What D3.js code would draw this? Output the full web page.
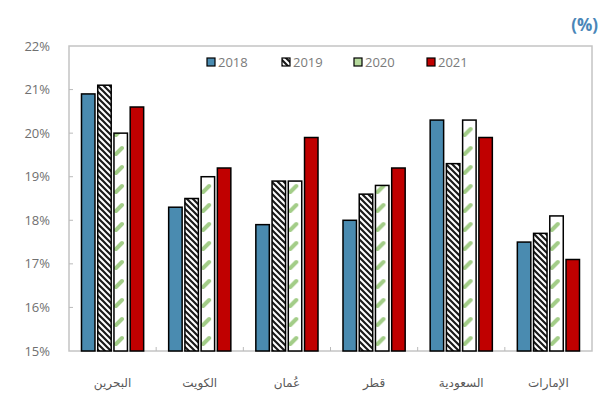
<!DOCTYPE html>
<html><head><meta charset="utf-8">
<script src="https://cdn.jsdelivr.net/npm/d3@7"></script>
<style>body{margin:0;background:#fff;}svg{display:block;font-family:"Open Sans","DejaVu Sans",sans-serif;}</style>
</head><body>
<svg id="chart" width="600" height="394"></svg>
<script>
const categories = ["البحرين","الكويت","عُمان","قطر","السعودية","الإمارات"];
const years = ["2018","2019","2020","2021"];
const v2018 = [20.9, 18.3, 17.9, 18.0, 20.3, 17.5];
const v2019 = [21.1, 18.5, 18.9, 18.6, 19.3, 17.7];
const v2020 = [20.0, 19.0, 18.9, 18.8, 20.3, 18.1];
const v2021 = [20.6, 19.2, 19.9, 19.2, 19.9, 17.1];
const yTicks = [15,16,17,18,19,20,21,22];
const unitLabel = "(%)";

const series = [v2018, v2019, v2020, v2021];
const svg = d3.select("#chart");
const L = 69, R = 592, T = 46, B = 351;

const x0 = d3.scaleBand().domain(categories).range([L, R]).paddingInner(0).paddingOuter(0);
const x1 = d3.scaleBand().domain(years).range([0, x0.bandwidth()]).paddingInner(0.17).paddingOuter(0.77);
const y = d3.scaleLinear().domain([15, 22]).range([B, T]);

const defs = svg.append("defs");
const p19 = defs.append("pattern").attr("id","p19").attr("patternUnits","userSpaceOnUse")
  .attr("width",6).attr("height",6);
p19.append("rect").attr("width",6).attr("height",6).attr("fill","#fff");
p19.append("path").attr("d","M-1,-1 L7,7 M-1,5 L1,7 M5,-1 L7,1").attr("stroke","#1a1a1a").attr("stroke-width",2.2);
categories.forEach((c,i)=>{
  const p = defs.append("pattern").attr("id","p20_"+i).attr("patternUnits","userSpaceOnUse")
    .attr("x", x0(c)+x1("2020")).attr("y", B).attr("width",40).attr("height",19);
  p.append("rect").attr("width",40).attr("height",19).attr("fill","#fff");
  p.append("path").attr("d","M2,12 L8,6").attr("stroke","#a3cd88").attr("stroke-width",4).attr("stroke-linecap","round");
});

const fills = ["#4a8bb0","url(#p19)",null,"#c00000"];
const legendFills = ["#4a8bb0","url(#p19)","#b5d99c","#c00000"];

// frame
svg.append("rect").attr("x",L).attr("y",T).attr("width",R-L).attr("height",B-T)
  .attr("fill","none").attr("stroke","#c4c4c4").attr("stroke-width",1.5);

// y ticks & labels
svg.append("g").selectAll("line").data(yTicks.slice(1,-1)).join("line")
  .attr("x1",L).attr("x2",L+4).attr("y1",d=>y(d)).attr("y2",d=>y(d))
  .attr("stroke","#bbb").attr("stroke-width",1);
svg.append("g").selectAll("text").data(yTicks).join("text")
  .attr("x",50).attr("y",d=>y(d)).attr("dy","0.35em").attr("text-anchor","end")
  .attr("fill","#707070").attr("font-size",13).text(d=>d+"%");

// x ticks
svg.append("g").selectAll("line").data(categories.slice(1)).join("line")
  .attr("x1",d=>x0(d)).attr("x2",d=>x0(d)).attr("y1",B).attr("y2",B-4)
  .attr("stroke","#bbb").attr("stroke-width",1);

// bars
const g = svg.append("g");
categories.forEach((c,i)=>{
  years.forEach((yr,j)=>{
    const val = series[j][i];
    g.append("rect")
      .attr("x", x0(c)+x1(yr)).attr("width", x1.bandwidth())
      .attr("y", y(val)).attr("height", B - y(val))
      .attr("fill", j===2 ? "url(#p20_"+i+")" : fills[j]).attr("stroke","#000").attr("stroke-width",1.5);
  });
});

// x labels
svg.append("g").selectAll("text").data(categories).join("text")
  .attr("x",d=>x0(d)+x0.bandwidth()/2).attr("y",383).attr("dy","0.35em")
  .attr("text-anchor","middle").attr("fill","#595959").attr("font-size",12)
  .attr("font-family","'DejaVu Sans', 'Noto Sans', sans-serif").text(d=>d);

// legend
const legX = [207, 282, 354, 427];
const lg = svg.append("g");
years.forEach((yr,j)=>{
  lg.append("rect").attr("x",legX[j]).attr("y",58).attr("width",8).attr("height",8)
    .attr("fill",legendFills[j]).attr("stroke","#000").attr("stroke-width",1.2);
  lg.append("text").attr("x",legX[j]+11).attr("y",62).attr("dy","0.35em")
    .attr("fill","#7a7a7a").attr("font-size",13).text(yr);
});

// unit label
svg.append("text").attr("x",598).attr("y",31).attr("text-anchor","end")
  .attr("fill","#4a86b8").attr("font-weight","bold").attr("font-size",17).text(unitLabel);
</script>
</body></html>
